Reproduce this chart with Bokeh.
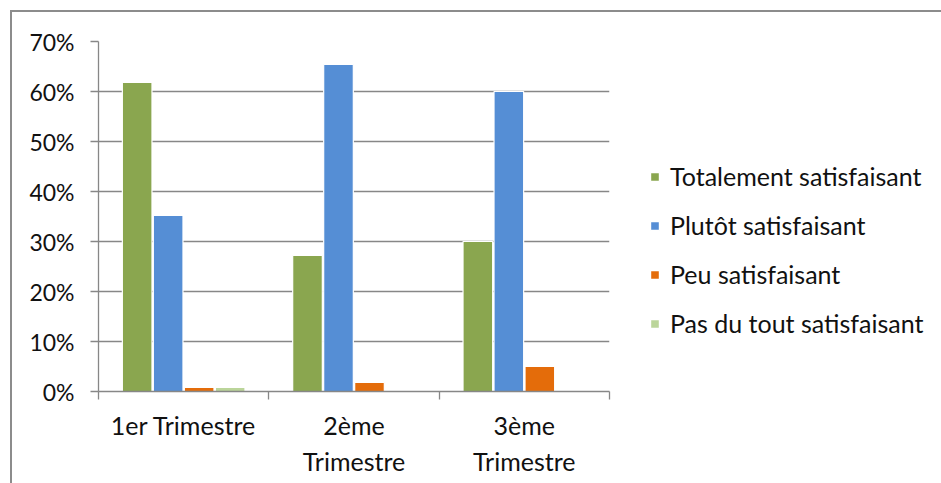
from bokeh.plotting import figure
from bokeh.models import (ColumnDataSource, FixedTicker, NumeralTickFormatter, Range1d,
                          Legend, LegendItem, InlineStyleSheet)
from bokeh.embed import file_html
from bokeh.resources import INLINE

categories = ["1er Trimestre", "2ème\nTrimestre", "3ème\nTrimestre"]
series_names = ["Totalement satisfaisant", "Plutôt satisfaisant",
                "Peu satisfaisant", "Pas du tout satisfaisant"]
totalement = [0.618, 0.272, 0.300]
plutot = [0.352, 0.654, 0.600]
peu = [0.008, 0.018, 0.050]
pas_du_tout = [0.008, 0.000, 0.000]
y_ticks = [0.0, 0.1, 0.2, 0.3, 0.4, 0.5, 0.6, 0.7]

colors = ["#8AA64F", "#558ED5", "#E46C0A", "#BBD59A"]
FONT = "Lato"
GRAY = "#878787"

p = figure(width=925, height=467, output_backend="svg", toolbar_location=None,
           x_range=Range1d(0, 3), y_range=Range1d(0, 0.7),
           min_border_left=98, min_border_top=41, min_border_bottom=76,
           min_border_right=316, frame_width=511, frame_height=350)
p.outline_line_color = None
p.background_fill_color = "white"
p.border_fill_color = "white"

slot = 0.182
series = [totalement, plutot, peu, pas_du_tout]
renderers = []
for k, vals in enumerate(series):
    xs = [i + 0.5 + (k - 1.5) * slot for i in range(len(categories))]
    src = ColumnDataSource(dict(x=xs, top=vals))
    r = p.vbar(x="x", top="top", bottom=0, width=slot - 0.008, source=src,
               fill_color=colors[k], line_color="white", line_width=1.2)
    renderers.append(r)

# y axis
p.yaxis.ticker = FixedTicker(ticks=y_ticks)
p.yaxis.formatter = NumeralTickFormatter(format="0%")
p.yaxis.axis_line_color = GRAY
p.yaxis.axis_line_width = 1.3
p.yaxis.major_tick_line_color = GRAY
p.yaxis.major_tick_line_width = 1.3
p.yaxis.major_tick_out = 8
p.yaxis.major_tick_in = 0
p.yaxis.minor_tick_line_color = None
p.yaxis.major_label_text_font = FONT
p.yaxis.major_label_text_font_size = "23px"
p.yaxis.major_label_text_color = "#111111"
p.yaxis.major_label_standoff = 16

# x axis
p.xaxis.ticker = FixedTicker(ticks=[0.5, 1.5, 2.5], minor_ticks=[0, 1, 2, 3])
p.xaxis.major_label_overrides = {0.5 + i: c for i, c in enumerate(categories)}
p.xaxis.axis_line_color = GRAY
p.xaxis.axis_line_width = 1.3
p.xaxis.major_tick_line_color = None
p.xaxis.major_tick_out = 0
p.xaxis.major_tick_in = 0
p.xaxis.minor_tick_line_color = GRAY
p.xaxis.minor_tick_line_width = 1.3
p.xaxis.minor_tick_out = 8
p.xaxis.minor_tick_in = 0
p.xaxis.major_label_text_font = FONT
p.xaxis.major_label_text_font_size = "25px"
p.xaxis.major_label_text_color = "#111111"
p.xaxis.major_label_standoff = 10

p.xgrid.grid_line_color = None
p.ygrid.grid_line_color = GRAY
p.ygrid.grid_line_width = 1.3

legend = Legend(items=[LegendItem(label=n, renderers=[r]) for n, r in zip(series_names, renderers)],
                location=(40, 53), orientation="vertical")
legend.glyph_width = 11
legend.glyph_height = 11
legend.label_standoff = 10
legend.spacing = 19
legend.padding = 0
legend.margin = 0
legend.border_line_color = None
legend.background_fill_alpha = 0
legend.label_text_font = FONT
legend.label_text_font_size = "25px"
legend.label_text_color = "#111111"
p.add_layout(legend, "right")

p.stylesheets = [InlineStyleSheet(css="""
:host::after {
  content: "";
  position: absolute;
  left: 10px; top: 10px; right: -40px; bottom: -40px;
  border-left: 2px solid #8C8C8C;
  border-top: 2px solid #8C8C8C;
  pointer-events: none;
}
""")]

open("out.html", "w").write(file_html(p, INLINE))
